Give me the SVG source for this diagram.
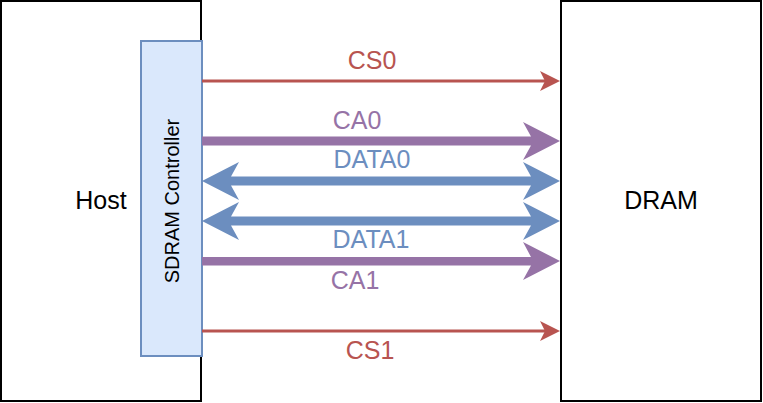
<svg xmlns="http://www.w3.org/2000/svg" width="763" height="403" viewBox="0 0 763 403">
<style>
.box{fill:#ffffff;stroke:#000000;stroke-width:2}
.ctrl{fill:#dae8fc;stroke:#6c8ebf;stroke-width:2}
.lbl{font-family:"Liberation Sans",Arial,Helvetica,sans-serif;font-size:25px;text-anchor:middle}
.red{fill:#b85450}
.pur{fill:#9673a6}
.blu{fill:#6c8ebf}
</style>
<rect width="763" height="403" fill="#ffffff"/>
<g id="host">
<rect class="box" x="1" y="1" width="200" height="400"/>
<text class="lbl" x="101" y="209" fill="#000000">Host</text>
</g>
<g id="dram">
<rect class="box" x="561" y="1" width="200" height="400"/>
<text class="lbl" x="661" y="209" fill="#000000">DRAM</text>
</g>
<g id="controller">
<rect class="ctrl" x="141" y="41" width="61" height="315"/>
<text class="lbl" transform="translate(179,201) rotate(-90)" x="0" y="0" fill="#000000" style="font-size:20px">SDRAM Controller</text>
</g>
<g id="connectors">
<g id="cs0">
<line x1="202" y1="81" x2="545" y2="81" stroke="#b85450" stroke-width="3"/>
<polygon class="red" points="560,81 540,71 545,81 540,91"/>
<text class="lbl red" x="372" y="69">CS0</text>
</g>
<g id="ca0">
<polygon class="pur" points="202,136.5 531,136.5 523,122 560,141 523,160 531,145.5 202,145.5"/>
<text class="lbl pur" x="357" y="129">CA0</text>
</g>
<g id="data0">
<polygon class="blu" points="202,181 239,162 231,176.5 531,176.5 523,162 560,181 523,200 531,185.5 231,185.5 239,200"/>
<text class="lbl blu" x="372" y="168">DATA0</text>
</g>
<g id="data1">
<polygon class="blu" points="202,221 239,202 231,216.5 531,216.5 523,202 560,221 523,240 531,225.5 231,225.5 239,240"/>
<text class="lbl blu" x="371" y="248">DATA1</text>
</g>
<g id="ca1">
<polygon class="pur" points="202,257 531,257 523,242 560,261 523,280 531,265.5 202,265.5"/>
<text class="lbl pur" x="355" y="289">CA1</text>
</g>
<g id="cs1">
<line x1="202" y1="331" x2="545" y2="331" stroke="#b85450" stroke-width="3"/>
<polygon class="red" points="560,331 540,321 545,331 540,341"/>
<text class="lbl red" x="370" y="359">CS1</text>
</g>
</g>
</svg>
